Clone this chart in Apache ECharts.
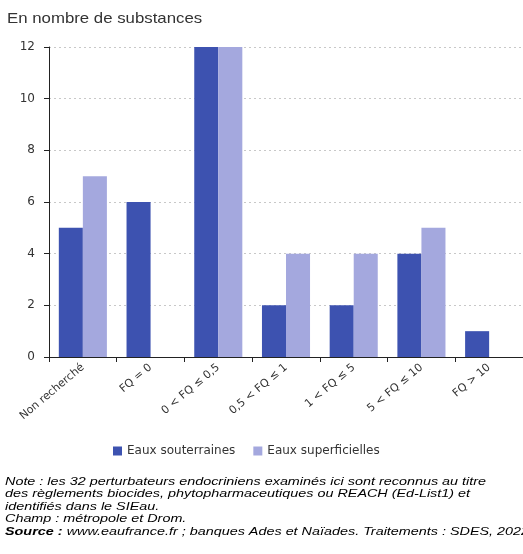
<!DOCTYPE html>
<html>
<head>
<meta charset="utf-8">
<script src="https://cdn.jsdelivr.net/npm/echarts@6/dist/echarts.min.js"></script>
<style>
  html, body { margin: 0; padding: 0; background: #fff; }
  #chart { width: 523px; height: 554px; }
</style>
</head>
<body>
<div id="chart"></div>
<script>
const categories = ['Non recherché', 'FQ = 0', '0 < FQ ≤ 0,5', '0,5 < FQ ≤ 1', '1 < FQ ≤ 5', '5 < FQ ≤ 10', 'FQ > 10'];
const souterraines = [5, 6, 12, 2, 2, 4, 1];
const superficielles = [7, null, 12, 4, 4, 5, null];
const yTicks = { min: 0, max: 12, interval: 2 };

const noteLines = [
  'Note : les 32 perturbateurs endocriniens examinés ici sont reconnus au titre',
  'des règlements biocides, phytopharmaceutiques ou REACH (Ed-List1) et',
  'identifiés dans le SIEau.',
  'Champ : métropole et Drom.',
];
const sourceText = 'www.eaufrance.fr ; banques Ades et Naïades. Traitements : SDES, 2022';

const DARK = '#3d52b0';
const LIGHT = '#a4a8de';
const FONT = '"Liberation Sans", Arial, sans-serif';
const WIDE = '"DejaVu Sans", sans-serif';

const chart = echarts.init(document.getElementById('chart'), null, { renderer: 'canvas' });

chart.setOption({
  backgroundColor: '#fff',
  textStyle: { fontFamily: FONT },
  grid: { left: 49, right: 0, top: 47, bottom: 197, containLabel: false },
  legend: {
    data: ['Eaux souterraines', 'Eaux superficielles'],
    top: 440,
    left: 108,
    itemWidth: 9,
    itemHeight: 9,
    itemGap: 18,
    textStyle: { fontFamily: WIDE, fontSize: 12, color: '#333' },
    icon: 'rect',
  },
  xAxis: {
    type: 'category',
    data: categories,
    axisLine: { lineStyle: { color: '#222', width: 1 } },
    axisTick: { show: true, alignWithLabel: false, length: 5, lineStyle: { color: '#222' } },
    axisLabel: { rotate: 40, interval: 0, fontSize: 11, color: '#333', fontFamily: WIDE, margin: 9 },
  },
  yAxis: {
    type: 'value',
    min: yTicks.min,
    max: yTicks.max,
    interval: yTicks.interval,
    axisLine: { show: true, lineStyle: { color: '#222', width: 1 } },
    axisTick: { show: true, length: 5, lineStyle: { color: '#222' } },
    axisLabel: { fontSize: 12, color: '#333', fontFamily: WIDE, margin: 14 },
    splitLine: { show: true, lineStyle: { color: '#c8c8c8', type: [2, 3], width: 1 } },
  },
  series: [
    {
      name: 'Eaux souterraines',
      type: 'bar',
      data: souterraines,
      itemStyle: { color: DARK },
      barGap: '0%',
      barCategoryGap: '29%',
    },
    {
      name: 'Eaux superficielles',
      type: 'bar',
      data: superficielles,
      itemStyle: { color: LIGHT },
    },
  ],
  graphic: [
    {
      type: 'text',
      x: 7,
      y: 11,
      scaleX: 1.12,
      style: {
        text: 'En nombre de substances',
        fontFamily: FONT,
        fontSize: 15,
        fill: '#333',
      },
    },
    {
      type: 'text',
      x: 5,
      y: 475,
      scaleX: 1.25,
      style: {
        text: noteLines.map((l) => '{i|' + l + '}').join('\n') + '\n{b|Source :} {i|' + sourceText + '}',
        rich: {
          i: { fontFamily: FONT, fontSize: 11.5, fontStyle: 'italic', color: '#333', lineHeight: 12.6 },
          b: { fontFamily: FONT, fontSize: 11.5, fontStyle: 'italic', fontWeight: 'bold', color: '#222', lineHeight: 12.6 },
        },
      },
    },
  ],
});
</script>
</body>
</html>
